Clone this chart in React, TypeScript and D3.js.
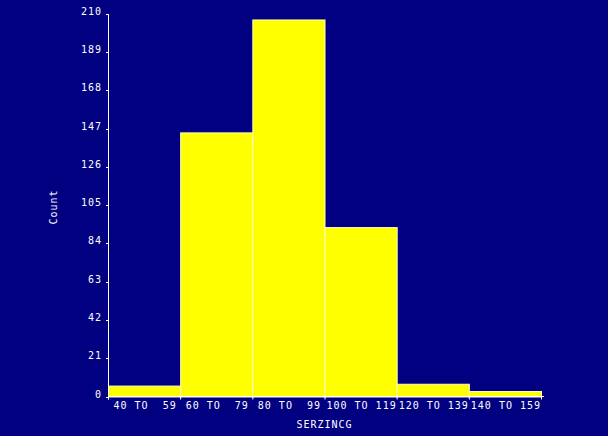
import React from "react";
import * as d3 from "d3";

const categories = ["40 TO  59", "60 TO  79", "80 TO  99", "100 TO 119", "120 TO 139", "140 TO 159"];
const counts = [6, 145, 207, 93, 7, 3];
const yTicks = [0, 21, 42, 63, 84, 105, 126, 147, 168, 189, 210];
const xTitle = "SERZINCG";
const yTitle = "Count";

const W = 608;
const H = 436;
const left = 108;
const right = 541;
const top = 14;
const bottom = 396.5;
const font = "'DejaVu Sans Mono', monospace";

export default function App() {
  const x = d3.scaleBand<string>().domain(categories).range([left, right]).padding(0);
  const y = d3.scaleLinear().domain([0, 210]).range([bottom, top]);
  const edges = categories.map((c) => x(c) as number).concat([right]);
  return (
    <svg width={W} height={H} style={{ position: "absolute", left: 0, top: 0, display: "block" }}>
      <rect x={0} y={0} width={W} height={H} fill="#000080" />
      {categories.map((c, i) => (
        <rect
          key={c}
          x={(x(c) as number) + 0.5}
          y={y(counts[i]) + 0.5}
          width={x.bandwidth()}
          height={bottom - y(counts[i])}
          fill="#ffff00"
          stroke="#ffffc0"
          strokeWidth={1}
        />
      ))}
      <line x1={left + 0.5} x2={left + 0.5} y1={top} y2={bottom + 3} stroke="#ffffff" />
      <line x1={left} x2={right + 3} y1={bottom} y2={bottom} stroke="#ffffff" />
      {yTicks.map((t) => (
        <g key={t}>
          <line x1={left - 2} x2={left} y1={Math.round(y(t)) + 0.5} y2={Math.round(y(t)) + 0.5} stroke="#ffffff" />
          <text
            x={102}
            y={Math.round(y(t)) + 1}
            textAnchor="end"
            fill="#ffffff"
            fontFamily={font}
            fontSize={10}
            letterSpacing={1}
          >
            {t}
          </text>
        </g>
      ))}
      {edges.map((e, i) => (
        <line key={i} x1={e + 0.5} x2={e + 0.5} y1={bottom} y2={bottom + 3} stroke="#ffffff" />
      ))}
      {categories.map((c) => (
        <text
          key={c}
          x={(x(c) as number) + x.bandwidth() / 2 + 1}
          y={409}
          textAnchor="middle"
          fill="#ffffff"
          fontFamily={font}
          fontSize={10}
          letterSpacing={1}
          style={{ whiteSpace: "pre" }}
        >
          {c}
        </text>
      ))}
      <text
        x={(left + right) / 2}
        y={428}
        textAnchor="middle"
        fill="#ffffff"
        fontFamily={font}
        fontSize={10}
        letterSpacing={1}
      >
        {xTitle}
      </text>
      <text
        transform={`translate(57,207) rotate(-90)`}
        textAnchor="middle"
        fill="#ffffff"
        fontFamily={font}
        fontSize={10}
        letterSpacing={1}
      >
        {yTitle}
      </text>
    </svg>
  );
}
